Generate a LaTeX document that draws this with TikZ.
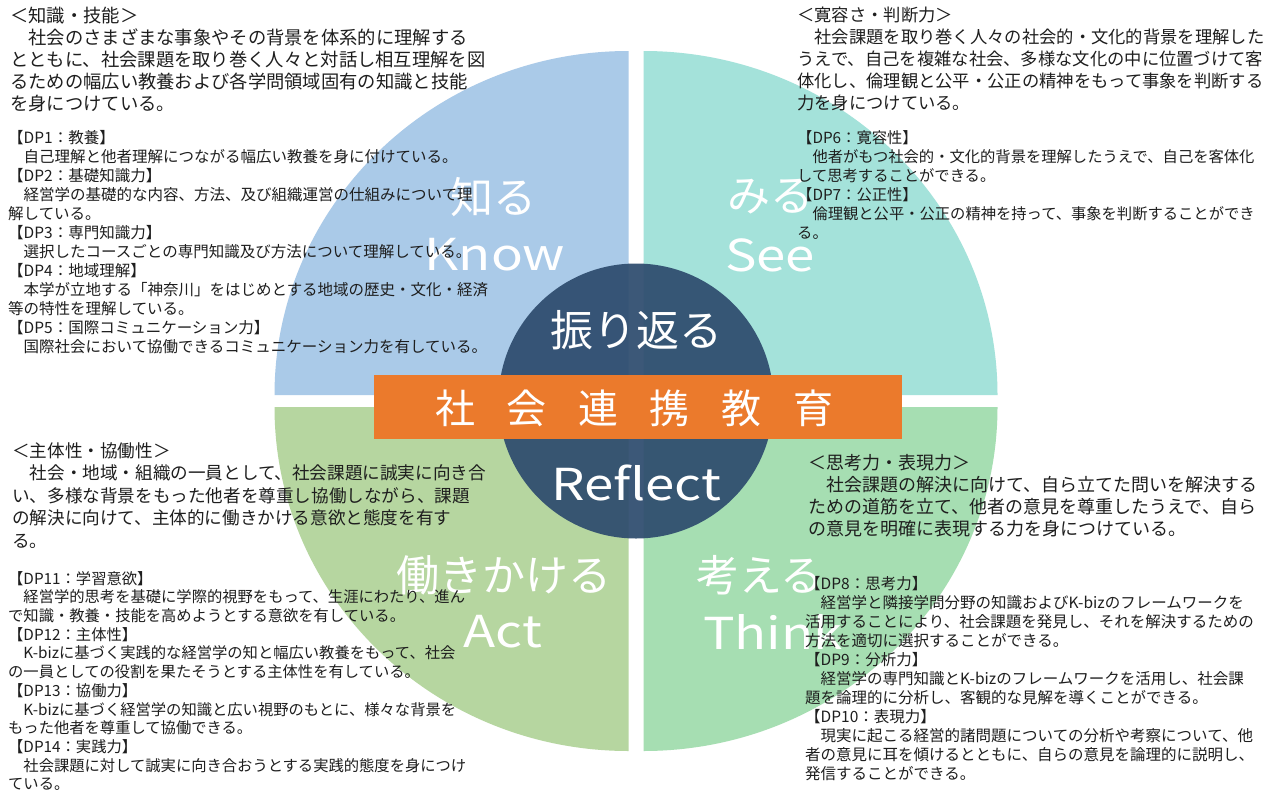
\documentclass[tikz,border=0pt]{standalone}
\usepackage{fontspec}
\setmainfont{Noto Sans CJK JP}
\newfontfamily\widefont[FakeStretch=1.2]{Noto Sans CJK JP}

\definecolor{knowblue}{RGB}{170,202,232}
\definecolor{seeteal}{RGB}{164,226,218}
\definecolor{actgreen}{RGB}{182,214,160}
\definecolor{thinkgreen}{RGB}{166,222,178}
\definecolor{reflectnavy}{RGB}{46,76,110}
\definecolor{bandorange}{RGB}{235,122,44}
\definecolor{inktext}{RGB}{30,30,30}

\begin{document}
\begin{tikzpicture}[x=1pt,y=-1pt,
  bigjp/.style={text=white,inner sep=0pt,font=\fontsize{43}{43}\selectfont},
  biglat/.style={text=white,inner sep=0pt,font=\widefont\fontsize{44}{44}\selectfont},
  headtext/.style={anchor=north west,inner sep=0pt,align=left,text=inktext},
  dptext/.style={anchor=north west,inner sep=0pt,align=left,text=inktext},
  bandtext/.style={text=white,inner sep=0pt,font=\fontsize{40}{40}\selectfont}]

  \useasboundingbox (0,0) rectangle (1271,795);
  \fill[white] (0,0) rectangle (1271,795);

  % Four quadrants
  \fill[knowblue] (628.5,395) -- (274.5,395)
    arc[start angle=180,end angle=270,x radius=354,y radius=344] -- cycle;
  \fill[seeteal] (643.5,395) -- (643.5,51)
    arc[start angle=270,end angle=360,x radius=354,y radius=344] -- cycle;
  \fill[actgreen] (628.5,407) -- (628.5,751)
    arc[start angle=90,end angle=180,x radius=354,y radius=344] -- cycle;
  \fill[thinkgreen] (643.5,407) -- (997.5,407)
    arc[start angle=0,end angle=90,x radius=354,y radius=344] -- cycle;

  % Quadrant words
  \node[bigjp] (know jp) at (493,197) {知る};
  \node[biglat] (know en) at (495,255) {Know};
  \node[bigjp] (see jp) at (770,197) {みる};
  \node[biglat] (see en) at (770,255) {See};
  \node[bigjp] (act jp) at (504,575) {働きかける};
  \node[biglat] (act en) at (503,632) {Act};
  \node[bigjp] (think jp) at (760,575) {考える};
  \node[biglat] (think en) at (773,632) {Think};

  % Centre
  \node[circle,fill=reflectnavy,fill opacity=0.93,minimum size=275pt,inner sep=0pt] (core) at (636,401) {};
  \node[bigjp] (reflect jp) at (636,330) {振り返る};
  \node[biglat] (reflect en) at (636,483) {Reflect};
  \node[fill=bandorange,minimum width=528pt,minimum height=64pt,inner sep=0pt] (band) at (638,407) {};
  \foreach \ch [count=\i from 0] in {社,会,連,携,教,育}
    \node[bandtext] (band\i) at (455+71.6*\i,408) {\ch};

  % Know
  \node[headtext,font=\fontsize{18.3}{22}\selectfont] (know head) at (10,6.6) {＜知識・技能＞\\
    　社会のさまざまな事象やその背景を体系的に理解する\\
    とともに、社会課題を取り巻く人々と対話し相互理解を図\\
    るための幅広い教養および各学問領域固有の知識と技能\\
    を身につけている。};
  \node[dptext,font=\fontsize{15.5}{19}\selectfont] (know dp) at (8,130) {【DP1：教養】\\
    　自己理解と他者理解につながる幅広い教養を身に付けている。\\
    【DP2：基礎知識力】\\
    　経営学の基礎的な内容、方法、及び組織運営の仕組みについて理\\
    解している。\\
    【DP3：専門知識力】\\
    　選択したコースごとの専門知識及び方法について理解している。\\
    【DP4：地域理解】\\
    　本学が立地する「神奈川」をはじめとする地域の歴史・文化・経済\\
    等の特性を理解している。\\
    【DP5：国際コミュニケーション力】\\
    　国際社会において協働できるコミュニケーション力を有している。};

  % See
  \node[headtext,font=\fontsize{17.3}{22}\selectfont] (see head) at (797,7) {＜寛容さ・判断力＞\\
    　社会課題を取り巻く人々の社会的・文化的背景を理解した\\
    うえで、自己を複雑な社会、多様な文化の中に位置づけて客\\
    体化し、倫理観と公平・公正の精神をもって事象を判断する\\
    力を身につけている。};
  \node[dptext,font=\fontsize{15.3}{19}\selectfont] (see dp) at (797,130) {【DP6：寛容性】\\
    　他者がもつ社会的・文化的背景を理解したうえで、自己を客体化\\
    して思考することができる。\\
    【DP7：公正性】\\
    　倫理観と公平・公正の精神を持って、事象を判断することができ\\
    る。};

  % Act
  \node[headtext,font=\fontsize{17.6}{22.5}\selectfont] (act head) at (12,442) {＜主体性・協働性＞\\
    　社会・地域・組織の一員として、社会課題に誠実に向き合\\
    い、多様な背景をもった他者を尊重し協働しながら、課題\\
    の解決に向けて、主体的に働きかける意欲と態度を有す\\
    る。};
  \node[dptext,font=\fontsize{15.3}{18.7}\selectfont] (act dp) at (8,571) {【DP11：学習意欲】\\
    　経営学的思考を基礎に学際的視野をもって、生涯にわたり、進ん\\
    で知識・教養・技能を高めようとする意欲を有している。\\
    【DP12：主体性】\\
    　K-bizに基づく実践的な経営学の知と幅広い教養をもって、社会\\
    の一員としての役割を果たそうとする主体性を有している。\\
    【DP13：協働力】\\
    　K-bizに基づく経営学の知識と広い視野のもとに、様々な背景を\\
    もった他者を尊重して協働できる。\\
    【DP14：実践力】\\
    　社会課題に対して誠実に向き合おうとする実践的態度を身につけ\\
    ている。};

  % Think
  \node[headtext,font=\fontsize{18}{22}\selectfont] (think head) at (808,453.7) {＜思考力・表現力＞\\
    　社会課題の解決に向けて、自ら立てた問いを解決する\\
    ための道筋を立て、他者の意見を尊重したうえで、自ら\\
    の意見を明確に表現する力を身につけている。};
  \node[dptext,font=\fontsize{15.5}{19}\selectfont] (think dp) at (805,576) {【DP8：思考力】\\
    　経営学と隣接学問分野の知識およびK-bizのフレームワークを\\
    活用することにより、社会課題を発見し、それを解決するための\\
    方法を適切に選択することができる。\\
    【DP9：分析力】\\
    　経営学の専門知識とK-bizのフレームワークを活用し、社会課\\
    題を論理的に分析し、客観的な見解を導くことができる。\\
    【DP10：表現力】\\
    　現実に起こる経営的諸問題についての分析や考察について、他\\
    者の意見に耳を傾けるとともに、自らの意見を論理的に説明し、\\
    発信することができる。};

\end{tikzpicture}
\end{document}
